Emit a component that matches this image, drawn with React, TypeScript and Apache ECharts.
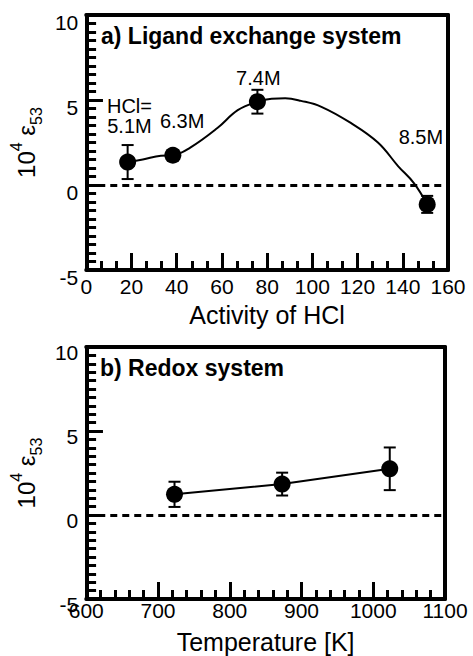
import React, { useEffect, useRef } from 'react';
import * as echarts from 'echarts';

// ---- panel a) ligand exchange system ----
const hclActivity = [18.3, 38.3, 75.7, 150.8];
const epsilonA = [1.35, 1.75, 4.9, -1.14];
const errA = [1.0, 0.3, 0.7, 0.5];
const hclLabels = ['HCl=', '5.1M', '6.3M', '7.4M', '8.5M'];
const hclLabelX = [19.1, 19.1, 42.4, 76.1, 148];
const hclLabelY = [4.65, 3.47, 3.76, 6.29, 2.82];
// fitted curve
const fitX = [18.3, 25, 33, 38.3, 46, 58, 67, 75.7, 82, 88, 95, 104, 117, 129, 138, 145, 150.8];
const fitY = [1.35, 1.5, 1.72, 1.75, 2.2, 3.35, 4.4, 4.9, 5.08, 5.1, 4.95, 4.6, 3.65, 2.5, 1.1, 0.1, -1.14];

// ---- panel b) redox system ----
const temperature = [723, 873, 1023];
const epsilonB = [1.23, 1.84, 2.75];
const errB = [0.75, 0.68, 1.27];

// ---- axis scales ----
const xRangeA = [0, 160];
const xStepA = 20;
const xMinorDivA = 3;
const xRangeB = [600, 1100];
const xStepB = 100;
const xMinorDivB = 5;
const yRange = [-5, 10];
const yStep = 5;
const yMinorDiv = 10;

// grid boxes (pixels)
const gridA = { left: 80, top: 15, width: 368, height: 255 };
const gridB = { left: 80, top: 347, width: 365, height: 252 };

const FONT = '"Liberation Sans", Arial, Helvetica, sans-serif';
const BLACK = '#000';

function errorRender(params: any, api: any) {
  const x = api.value(0);
  const lo = api.coord([x, api.value(1)]);
  const hi = api.coord([x, api.value(2)]);
  const w = 6;
  const st = { stroke: BLACK, lineWidth: 2 };
  return {
    type: 'group',
    children: [
      { type: 'line', shape: { x1: lo[0], y1: lo[1], x2: hi[0], y2: hi[1] }, style: st },
      { type: 'line', shape: { x1: lo[0] - w, y1: lo[1], x2: lo[0] + w, y2: lo[1] }, style: st },
      { type: 'line', shape: { x1: hi[0] - w, y1: hi[1], x2: hi[0] + w, y2: hi[1] }, style: st },
    ],
  };
}

function tickValues(min: number, max: number, step: number, div: number, major: boolean) {
  const out: number[] = [];
  const n = Math.round((max - min) / step) * div;
  for (let i = 0; i <= n; i++) {
    if ((i % div === 0) === major) out.push(min + (i * step) / div);
  }
  return out;
}

// inward ticks as markLine segments placed in data coordinates
function tickMarkLine(xr: number[], xs: number, xd: number, g: { width: number; height: number }) {
  const yUnit = (yRange[1] - yRange[0]) / g.height; // data units per pixel
  const xUnit = (xr[1] - xr[0]) / g.width;
  const data: any[] = [];
  tickValues(xr[0], xr[1], xs, xd, true).forEach((v) =>
    data.push([{ coord: [v, yRange[0]] }, { coord: [v, yRange[0] + 17 * yUnit] }])
  );
  tickValues(xr[0], xr[1], xs, xd, false).forEach((v) =>
    data.push([{ coord: [v, yRange[0]] }, { coord: [v, yRange[0] + 9 * yUnit] }])
  );
  tickValues(yRange[0], yRange[1], yStep, yMinorDiv, true).forEach((v) =>
    data.push([{ coord: [xr[0], v] }, { coord: [xr[0] + 17 * xUnit, v] }])
  );
  tickValues(yRange[0], yRange[1], yStep, yMinorDiv, false).forEach((v) =>
    data.push([{ coord: [xr[0], v] }, { coord: [xr[0] + 10 * xUnit, v] }])
  );
  return {
    silent: true,
    symbol: 'none',
    precision: 6,
    label: { show: false },
    emphasis: { disabled: true },
    lineStyle: { color: BLACK, width: 3, type: 'solid', opacity: 1 },
    data,
  };
}

const plainNum = (v: number) => String(v);

function xAxisCfg(grid: number, range: number[], interval: number, name: string, labelMargin: number, nameGap: number) {
  return {
    gridIndex: grid,
    type: 'value',
    position: 'bottom',
    min: range[0],
    max: range[1],
    interval,
    axisLine: { show: true, onZero: false, lineStyle: { color: BLACK, width: 4 } },
    axisTick: { show: false },
    minorTick: { show: false },
    splitLine: { show: false },
    minorSplitLine: { show: false },
    axisLabel: { show: true, fontSize: 21, color: BLACK, fontFamily: FONT, margin: labelMargin, formatter: plainNum },
    name,
    nameLocation: 'middle',
    nameGap,
    nameTextStyle: { fontSize: 25, color: BLACK, fontFamily: FONT },
  };
}

function borderAxis(grid: number, range: number[], position: string) {
  return {
    gridIndex: grid,
    type: 'value',
    position,
    min: range[0],
    max: range[1],
    axisLine: { show: true, onZero: false, lineStyle: { color: BLACK, width: 4 } },
    axisTick: { show: false },
    minorTick: { show: false },
    splitLine: { show: false },
    axisLabel: { show: false },
  };
}

function yAxisCfg(grid: number, labelShift: number) {
  return {
    gridIndex: grid,
    type: 'value',
    position: 'left',
    min: yRange[0],
    max: yRange[1],
    interval: yStep,
    axisLine: { show: true, onZero: false, lineStyle: { color: BLACK, width: 4 } },
    axisTick: { show: false },
    minorTick: { show: false },
    splitLine: { show: false },
    minorSplitLine: { show: false },
    axisLabel: {
      show: true,
      fontSize: 21,
      color: BLACK,
      fontFamily: FONT,
      margin: 8,
      formatter: plainNum,
      verticalAlign: 'top',
      lineHeight: labelShift * 2,
    },
    name: '{n|10}{sup|4}{n| ε}{sub|53}',
    nameLocation: 'middle',
    nameRotate: 90,
    nameGap: 32,
    nameTextStyle: {
      color: BLACK,
      fontFamily: FONT,
      rich: {
        n: { fontSize: 24, lineHeight: 36, fontFamily: FONT, color: BLACK },
        sup: { fontSize: 16, lineHeight: 26, verticalAlign: 'top', fontFamily: FONT, color: BLACK },
        sub: { fontSize: 16, lineHeight: 16, verticalAlign: 'bottom', fontFamily: FONT, color: BLACK },
      },
    },
  };
}

const zeroLine = {
  silent: true,
  symbol: 'none',
  label: { show: false },
  lineStyle: { color: BLACK, width: 3, type: [7, 5], opacity: 1 },
  data: [{ yAxis: 0 }],
};

export default function App() {
  const ref = useRef<HTMLDivElement>(null);
  useEffect(() => {
    if (!ref.current) return;
    const chart = echarts.init(ref.current, undefined, { renderer: 'svg' });
    const option: any = {
      animation: false,
      backgroundColor: '#fff',
      textStyle: { fontFamily: FONT, color: BLACK },
      title: [
        {
          text: 'a) Ligand exchange system',
          left: 101,
          top: 24,
          padding: 0,
          textStyle: { fontSize: 23, fontWeight: 'bold', color: BLACK, fontFamily: FONT },
        },
        {
          text: 'b) Redox system',
          left: 100,
          top: 356,
          padding: 0,
          textStyle: { fontSize: 23, fontWeight: 'bold', color: BLACK, fontFamily: FONT },
        },
      ],
      grid: [
        { ...gridA, show: false },
        { ...gridB, show: false },
      ],
      xAxis: [
        xAxisCfg(0, xRangeA, xStepA, 'Activity of HCl', 6, 32),
        xAxisCfg(1, xRangeB, xStepB, 'Temperature [K]', 1, 30),
        borderAxis(0, xRangeA, 'top'),
        borderAxis(1, xRangeB, 'top'),
      ],
      yAxis: [
        yAxisCfg(0, 7.5),
        yAxisCfg(1, 5),
        borderAxis(0, yRange, 'right'),
        borderAxis(1, yRange, 'right'),
      ],
      series: [
        {
          type: 'line',
          xAxisIndex: 0,
          yAxisIndex: 0,
          data: fitX.map((x, i) => [x, fitY[i]]),
          smooth: 0.4,
          symbol: 'none',
          lineStyle: { color: BLACK, width: 2, opacity: 1 },
          markLine: zeroLine,
          z: 2,
        },
        {
          type: 'custom',
          xAxisIndex: 0,
          yAxisIndex: 0,
          data: hclActivity.map((x, i) => [x, epsilonA[i] - errA[i], epsilonA[i] + errA[i]]),
          encode: { x: 0, y: [1, 2] },
          renderItem: errorRender,
          z: 3,
        },
        {
          type: 'scatter',
          xAxisIndex: 0,
          yAxisIndex: 0,
          data: hclActivity.map((x, i) => [x, epsilonA[i]]),
          symbol: 'circle',
          symbolSize: 17,
          itemStyle: { color: BLACK, opacity: 1 },
          markLine: tickMarkLine(xRangeA, xStepA, xMinorDivA, gridA),
          z: 4,
        },
        {
          type: 'scatter',
          xAxisIndex: 0,
          yAxisIndex: 0,
          data: hclLabels.map((t, i) => [hclLabelX[i], hclLabelY[i], t]),
          symbolSize: 1,
          itemStyle: { color: 'transparent', opacity: 1 },
          label: {
            show: true,
            position: 'inside',
            formatter: (p: any) => p.data[2],
            fontSize: 20,
            color: BLACK,
            opacity: 1,
            fontFamily: FONT,
          },
          z: 5,
        },
        {
          type: 'line',
          xAxisIndex: 1,
          yAxisIndex: 1,
          data: temperature.map((x, i) => [x, epsilonB[i]]),
          symbol: 'none',
          lineStyle: { color: BLACK, width: 2, opacity: 1 },
          markLine: zeroLine,
          z: 2,
        },
        {
          type: 'custom',
          xAxisIndex: 1,
          yAxisIndex: 1,
          data: temperature.map((x, i) => [x, epsilonB[i] - errB[i], epsilonB[i] + errB[i]]),
          encode: { x: 0, y: [1, 2] },
          renderItem: errorRender,
          z: 3,
        },
        {
          type: 'scatter',
          xAxisIndex: 1,
          yAxisIndex: 1,
          data: temperature.map((x, i) => [x, epsilonB[i]]),
          symbol: 'circle',
          symbolSize: 17,
          itemStyle: { color: BLACK, opacity: 1 },
          markLine: tickMarkLine(xRangeB, xStepB, xMinorDivB, gridB),
          z: 4,
        },
      ],
    };
    chart.setOption(option);
    return () => chart.dispose();
  }, []);
  return (
    <div
      ref={ref}
      style={{ position: 'absolute', left: 0, top: 0, width: 473, height: 656 }}
    />
  );
}
